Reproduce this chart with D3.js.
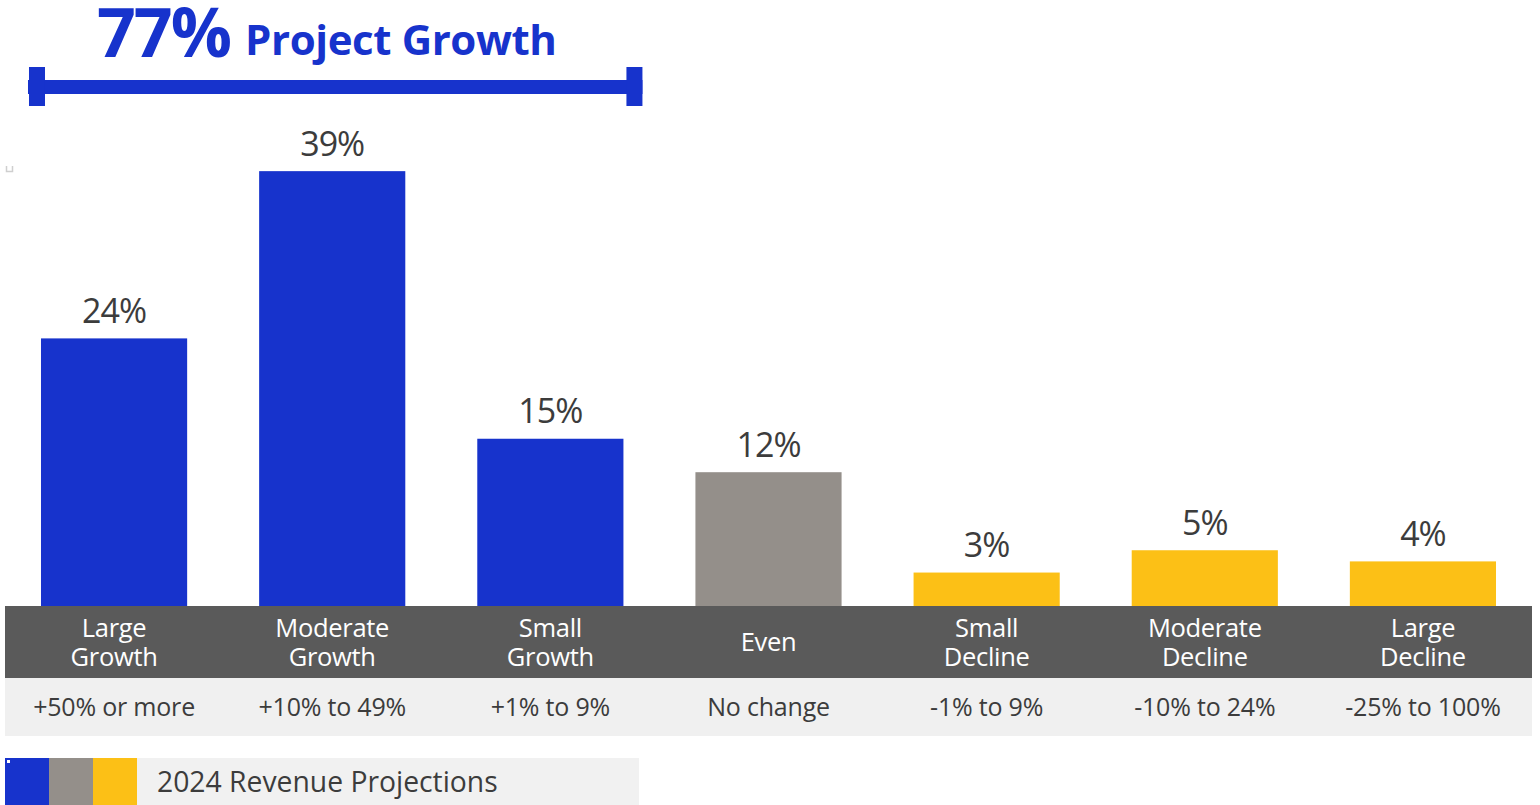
<!DOCTYPE html>
<html>
<head>
<meta charset="utf-8">
<script src="https://cdn.jsdelivr.net/npm/d3@7"></script>
<style>
  html, body { margin: 0; padding: 0; background: #ffffff; }
  svg { display: block; font-family: "Open Sans", "Noto Sans", sans-serif; }
</style>
</head>
<body>
<svg id="chart" width="1540" height="805"></svg>
<script>
// Revenue projection buckets for 2024
const categories = ["Large Growth", "Moderate Growth", "Small Growth", "Even", "Small Decline", "Moderate Decline", "Large Decline"];
const categoryLines = [["Large", "Growth"], ["Moderate", "Growth"], ["Small", "Growth"], ["Even"], ["Small", "Decline"], ["Moderate", "Decline"], ["Large", "Decline"]];
const ranges = ["+50% or more", "+10% to 49%", "+1% to 9%", "No change", "-1% to 9%", "-10% to 24%", "-25% to 100%"];
const values = [24, 39, 15, 12, 3, 5, 4];
const groups = ["growth", "growth", "growth", "even", "decline", "decline", "decline"];
const headlineValue = "77%";
const headlineText = "Project Growth";
const legendText = "2024 Revenue Projections";

const colors = { growth: "#1733cc", even: "#948f8a", decline: "#fcc016" };
const textDark = "#3c3c3c";

const svg = d3.select("#chart");

const x = d3.scaleBand()
  .domain(categories)
  .range([5, 1532])
  .paddingInner(0.33)
  .paddingOuter(0.165);

const baseY = 606;
const y = d3.scaleLinear().domain([0, 40]).range([baseY, 160]);

const rows = categories.map((c, i) => ({
  cat: c, lines: categoryLines[i], range: ranges[i], value: values[i], group: groups[i]
}));

// bars
svg.append("g").selectAll("rect")
  .data(rows)
  .join("rect")
  .attr("x", d => x(d.cat))
  .attr("y", d => y(d.value))
  .attr("width", x.bandwidth())
  .attr("height", d => baseY - y(d.value))
  .attr("fill", d => colors[d.group]);

// value labels
svg.append("g").selectAll("text")
  .data(rows)
  .join("text")
  .attr("x", d => x(d.cat) + x.bandwidth() / 2)
  .attr("y", d => y(d.value) - 15.5)
  .attr("text-anchor", "middle")
  .attr("font-size", 34)
  .attr("letter-spacing", "-1px")
  .attr("fill", textDark)
  .text(d => d.value + "%");

// category band (dark) and range band (light)
const [r0, r1] = x.range();
svg.append("rect").attr("x", r0).attr("y", baseY).attr("width", r1 - r0).attr("height", 72).attr("fill", "#5a5a5a");
svg.append("rect").attr("x", r0).attr("y", baseY + 72).attr("width", r1 - r0).attr("height", 58).attr("fill", "#f0f0f0");

const catG = svg.append("g").selectAll("text")
  .data(rows)
  .join("text")
  .attr("text-anchor", "middle")
  .attr("font-size", 25.5)
  .attr("font-weight", 500)
  .attr("letter-spacing", "-0.3px")
  .attr("fill", "#ffffff");
catG.each(function(d) {
  const t = d3.select(this);
  const cx = x(d.cat) + x.bandwidth() / 2;
  const n = d.lines.length;
  d.lines.forEach((ln, k) => {
    t.append("tspan")
      .attr("x", cx)
      .attr("y", baseY + 45 + (k - (n - 1) / 2) * 29)
      .text(ln);
  });
});

svg.append("g").selectAll("text")
  .data(rows)
  .join("text")
  .attr("x", d => x(d.cat) + x.bandwidth() / 2)
  .attr("y", baseY + 110)
  .attr("text-anchor", "middle")
  .attr("font-size", 25)
  .attr("letter-spacing", "-0.2px")
  .attr("fill", textDark)
  .text(d => d.range);

// bracket over the growth buckets
const growthCats = rows.filter(d => d.group === "growth").map(d => d.cat);
const bx0 = x(growthCats[0]) - 13;
const bx1 = x(growthCats[growthCats.length - 1]) + x.bandwidth() + 19;
const bracket = svg.append("g").attr("fill", colors.growth);
bracket.append("rect").attr("x", bx0).attr("y", 80).attr("width", bx1 - bx0).attr("height", 14);
bracket.append("rect").attr("x", bx0 + 1).attr("y", 67).attr("width", 16).attr("height", 39);
bracket.append("rect").attr("x", bx1 - 16).attr("y", 67).attr("width", 16).attr("height", 39);

// headline
const head = svg.append("text")
  .attr("x", bx0 + 69)
  .attr("y", 57)
  .attr("font-weight", 700)
  .attr("fill", colors.growth);
head.append("tspan").attr("font-size", 68).attr("letter-spacing", "-2px").text(headlineValue);
head.append("tspan").attr("font-size", 42).attr("dx", 15).attr("dy", -2).attr("letter-spacing", "-0.4px").text(headlineText);

// small corner mark at left
svg.append("path")
  .attr("d", "M6.5,166 V171.5 H12.5 V166")
  .attr("fill", "none")
  .attr("stroke", "#cfcfcf")
  .attr("stroke-width", 1.5);

// legend
const legY = 758;
const legend = svg.append("g");
const legGroups = ["growth", "even", "decline"];
legend.append("rect").attr("x", 137).attr("y", legY).attr("width", 502).attr("height", 805 - legY).attr("fill", "#f1f1f1");
legend.selectAll("rect.sw")
  .data(legGroups)
  .join("rect")
  .attr("class", "sw")
  .attr("x", (d, i) => 5 + i * 44)
  .attr("y", legY)
  .attr("width", 44)
  .attr("height", 805 - legY)
  .attr("fill", d => colors[d]);
legend.append("rect").attr("x", 7).attr("y", 760).attr("width", 3).attr("height", 3).attr("fill", "#ffffff");
legend.append("text")
  .attr("x", 157)
  .attr("y", 792)
  .attr("font-size", 28.3)
  .attr("fill", textDark)
  .text(legendText);
</script>
</body>
</html>
